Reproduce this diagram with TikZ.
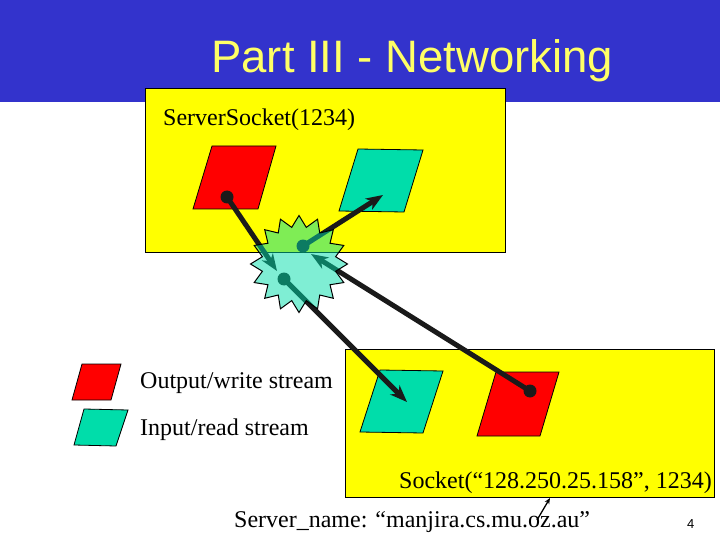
\documentclass[tikz,border=0pt]{standalone}
\usepackage{fontspec}
\setmainfont{Liberation Serif}
\newfontfamily\titlefont{Liberation Sans}
\usetikzlibrary{shapes.geometric,arrows.meta}
\definecolor{hdrblue}{HTML}{3333CC}
\definecolor{ttlyellow}{HTML}{FFFF66}
\definecolor{boxyellow}{HTML}{FFFF00}
\definecolor{aqua}{HTML}{00DDAA}
\definecolor{redpar}{HTML}{FF0000}
\definecolor{arrowdark}{HTML}{1A1A1A}
\tikzset{
  panel/.style={draw=black, line width=1pt, fill=boxyellow},
  outpar/.style={draw=black, line width=0.8pt, fill=redpar},
  inpar/.style={draw=black, line width=0.8pt, fill=aqua},
  flow/.style={draw=arrowdark, line width=5pt, -{Stealth[length=17pt,width=13pt,inset=5pt]}},
  flowdot/.style={fill=arrowdark, circle, inner sep=0pt, minimum size=13pt},
  lbl/.style={font=\fontsize{24}{28}\selectfont, inner sep=0pt},
}
\begin{document}
\begin{tikzpicture}[x=1pt,y=-1pt]
\useasboundingbox (0,0) rectangle (720,540);
% header
\fill[hdrblue] (0,0) rectangle (720,102);
\node[anchor=base west, inner sep=0pt, text=ttlyellow, font=\titlefont\fontsize{45.5}{50}\selectfont] (title) at (211,73) {Part III - Networking};
% panels
\draw[panel] (145,89) rectangle (505,252);
\draw[panel] (345,349) rectangle (714,497);
\node[lbl, anchor=base west] (srv) at (163,126) {ServerSocket(1234)};
\node[lbl, anchor=base east] (sock) at (712,488) {Socket(“128.250.25.158”, 1234)};
% stream parallelograms
\draw[outpar] (212,146) -- (276,146) -- (258,209) -- (193,209) -- cycle;
\draw[inpar] (358,149) -- (423,150) -- (404,212) -- (339,211) -- cycle;
\draw[inpar] (380,370) -- (443,371) -- (423,433) -- (360,432) -- cycle;
\draw[outpar] (496,372) -- (559,372) -- (540,436) -- (477,436) -- cycle;
% legend
\draw[outpar] (82,364) -- (121,364) -- (111,400) -- (72,400) -- cycle;
\draw[inpar] (84,409) -- (128,410) -- (116,446) -- (74,445) -- cycle;
\node[lbl, anchor=base west] (lgout) at (140,388) {Output/write stream};
\node[lbl, anchor=base west] (lgin) at (140,435) {Input/read stream};
% key points
\coordinate (rtop) at (227,197);
\coordinate (gtop) at (383,195);
\coordinate (sa) at (303,246);
\coordinate (sb) at (284,279);
\coordinate (sin1) at (277,271);
\coordinate (sin2) at (311,254);
\coordinate (gbot) at (407,402);
\coordinate (rbot) at (530,391);
% connectors
\draw[flow] (rtop) -- (sin1);
\draw[flow] (sa) -- (gtop);
\draw[flow] (rbot) -- (sin2);
\draw[flow] (sb) -- (gbot);
\node[flowdot] (d1) at (rtop) {};
\node[flowdot] (d2) at (sa) {};
\node[flowdot] (d3) at (sb) {};
\node[flowdot] (d4) at (rbot) {};
% connection burst
\node[star, star points=16, star point ratio=1.3, minimum size=97pt, inner sep=0pt,
      fill=aqua, fill opacity=0.5, draw=black, draw opacity=1, line width=1pt] (burst) at (299,264) {};
% bottom label
\node[lbl, anchor=base west] (sname) at (234,527) {Server\_name: “manjira.cs.mu.oz.au”};
\coordinate (ptr) at (537,520);
\coordinate (ptrend) at (550,498);
\draw[line width=1.3pt, -{Stealth[length=6pt,width=5pt]}] (ptr) -- (ptrend);
\node[anchor=base west, inner sep=0pt, font=\titlefont\fontsize{13}{15}\selectfont] (pg) at (687,528) {4};
\end{tikzpicture}
\end{document}
